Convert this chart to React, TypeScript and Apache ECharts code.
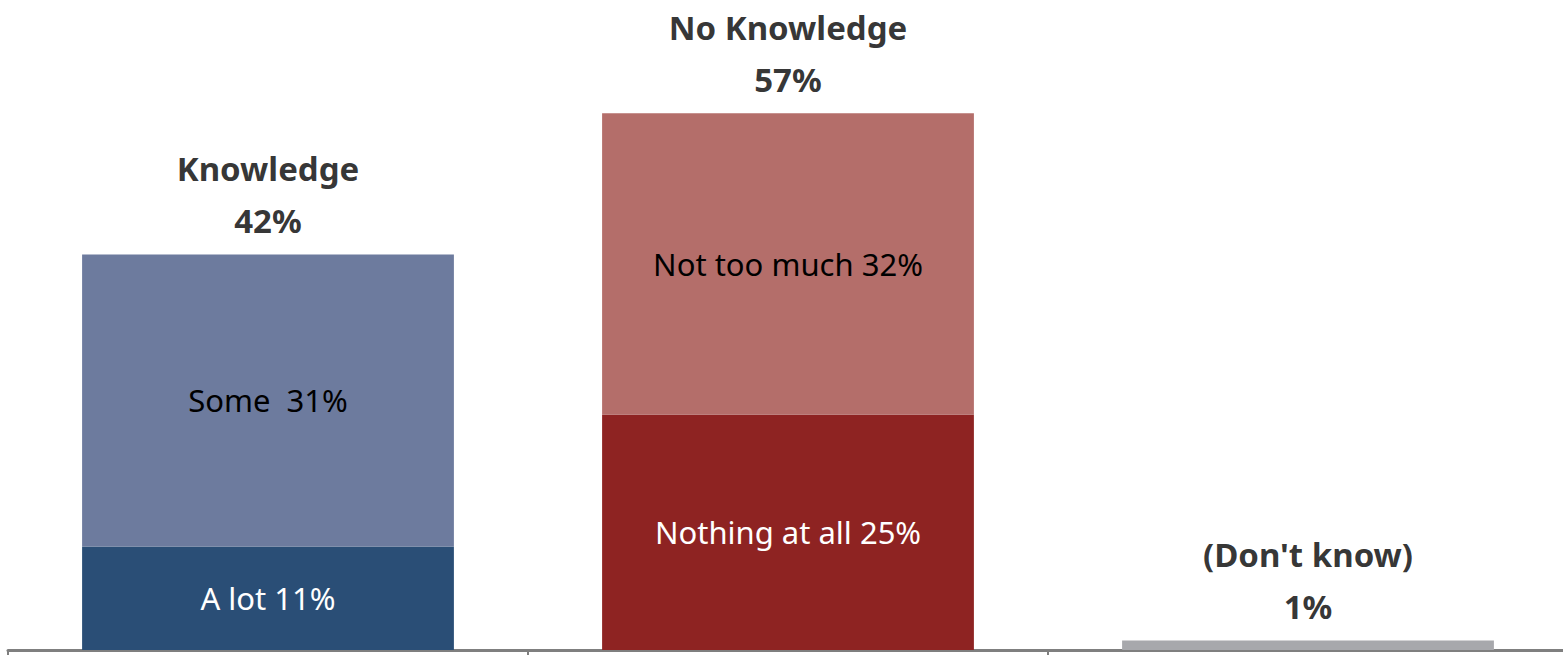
import React, { useEffect, useRef } from "react";
import * as echarts from "echarts";

const categories = ["Knowledge", "No Knowledge", "(Don't know)"];
const bottomNames = ["A lot", "Nothing at all", "(Don't know)"];
const bottomValues = [11, 25, 1];
const topNames = ["Some ", "Not too much", ""];
const topValues: (number | null)[] = [31, 32, null];
const totalNames = ["Knowledge", "No Knowledge", "(Don't know)"];
const totalValues = [42, 57, 1];

const bottomColors = ["#2A4E76", "#8E2322", "#A7A8AC"];
const topColors = ["#6D7B9E", "#B46E6A", "#A7A8AC"];

export default function App() {
  const ref = useRef<HTMLDivElement>(null);
  useEffect(() => {
    if (!ref.current) return;
    const chart = echarts.init(ref.current, null, { renderer: "svg" });
    const font = "Noto Sans";
    chart.setOption({
      animation: false,
      grid: { left: 8, width: 1560, top: 85, bottom: 5, outerBoundsMode: "none", containLabel: false },
      xAxis: {
        type: "category",
        data: categories,
        boundaryGap: true,
        axisLine: { show: true, lineStyle: { color: "#7F7F7F", width: 3 } },
        axisTick: { show: true, length: 6, lineStyle: { color: "#7F7F7F", width: 2 } },
        axisLabel: { show: false },
      },
      yAxis: {
        type: "value",
        min: 0,
        max: 60,
        show: false,
        splitLine: { show: false },
      },
      series: [
        {
          type: "bar",
          stack: "s",
          barWidth: "71.5%",
          data: bottomValues.map((v, i) => ({
            value: v,
            itemStyle: { color: bottomColors[i] },
            label: {
              show: i < 2,
              position: "inside",
              formatter: `${bottomNames[i]} ${v}%`,
              color: "#FFFFFF",
              fontSize: 31,
              fontFamily: font,
            },
          })),
        },
        {
          type: "bar",
          stack: "s",
          barWidth: "71.5%",
          data: topValues.map((v, i) => ({
            value: v,
            itemStyle: { color: topColors[i] },
            label: {
              show: v != null,
              position: "inside",
              formatter: `${topNames[i]} ${v}%`,
              color: "#000000",
              fontSize: 31,
              fontFamily: font,
            },
          })),
        },
        {
          type: "scatter",
          symbolSize: 0,
          data: totalValues.map((v, i) => ({
            value: v,
            label: {
              show: true,
              position: "top",
              distance: 8,
              formatter: `${totalNames[i]}\n${v}%`,
              color: "#000000",
              fontSize: 33,
              fontWeight: "bold",
              lineHeight: 52,
              fontFamily: font,
              align: "center",
            },
          })),
        },
      ],
    });
    return () => chart.dispose();
  }, []);
  return (
    <div
      ref={ref}
      style={{ position: "absolute", left: 0, top: 0, width: 1563, height: 655 }}
    />
  );
}
